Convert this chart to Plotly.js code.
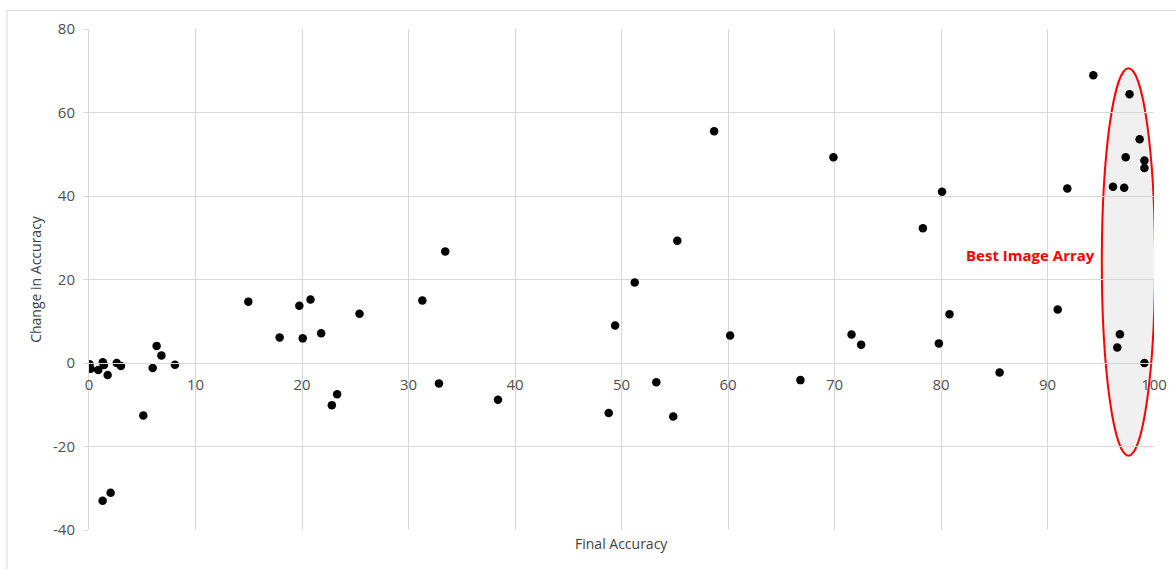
<!DOCTYPE html>
<html>
<head>
<meta charset="utf-8">
<script src="https://cdn.plot.ly/plotly-3.0.1.min.js"></script>
<style>html,body{margin:0;padding:0;background:#fff;}#chart{width:1176px;height:569px;}</style>
</head>
<body>
<div id="chart"></div>
<script>
var finalAccuracy = [0.05, 0.15, 0.87, 1.3, 1.4, 1.75, 2.6, 3.0, 5.1, 5.98, 6.35, 6.8, 8.07, 1.28, 2.03,
  14.96, 17.9, 19.75, 20.07, 20.8, 21.8, 25.4, 22.8, 23.3,
  33.45, 31.3, 32.86, 38.4, 55.24, 51.24, 49.4, 60.2, 53.27, 48.8, 54.86, 66.8, 58.7, 69.9,
  94.3, 97.7, 98.65, 97.34, 99.1, 99.1, 96.15, 97.2, 91.86, 80.1, 78.3, 71.6, 72.5, 79.8, 80.8, 85.5, 90.96, 96.8, 96.55, 99.1];
var changeInAccuracy = [-0.3, -1.4, -1.7, 0.2, -0.5, -2.9, 0.0, -0.7, -12.6, -1.2, 4.1, 1.8, -0.4, -33.0, -31.1,
  14.7, 6.1, 13.7, 5.9, 15.2, 7.1, 11.8, -10.1, -7.5,
  26.7, 15.0, -4.9, -8.8, 29.3, 19.3, 9.0, 6.6, -4.6, -12.0, -12.8, -4.1, 55.5, 49.3,
  68.9, 64.4, 53.6, 49.3, 48.5, 46.7, 42.2, 42.0, 41.8, 41.0, 32.3, 6.8, 4.4, 4.7, 11.7, -2.3, 12.8, 6.9, 3.7, 0.0];
var xTicks = [0, 10, 20, 30, 40, 50, 60, 70, 80, 90, 100];
var yTicks = [-40, -20, 0, 20, 40, 60, 80];
var highlightLabel = "Best Image Array";
var highlightBox = {x0: 95.1, x1: 100.1, y0: -22.2, y1: 70.6};
var xRange = [0, 100], yRange = [-40, 80];

var trace = {
  x: finalAccuracy, y: changeInAccuracy, type: 'scatter', mode: 'markers',
  marker: {color: '#000000', size: 8.5}, hoverinfo: 'x+y', showlegend: false
};

var layout = {
  width: 1176, height: 569,
  margin: {l: 89, r: 22, t: 28.5, b: 39, pad: 0},
  paper_bgcolor: '#ffffff', plot_bgcolor: '#ffffff',
  font: {family: 'Open Sans, Liberation Sans, sans-serif', color: '#595959', size: 15},
  xaxis: {
    range: xRange, tickvals: xTicks, ticktext: xTicks.map(String),
    showgrid: true, gridcolor: '#d9d9d9', gridwidth: 1,
    zeroline: false, showline: true, linecolor: '#d9d9d9', linewidth: 1,
    anchor: 'free', position: (0 - yRange[0]) / (yRange[1] - yRange[0]),
    ticks: '', ticklabelstandoff: 8,
    tickfont: {size: 15, color: '#505050'}
  },
  yaxis: {
    range: yRange, tickvals: yTicks, ticktext: yTicks.map(String),
    showgrid: true, gridcolor: '#d9d9d9', gridwidth: 1,
    zeroline: false, showline: true, linecolor: '#d9d9d9', linewidth: 1,
    ticks: 'outside', ticklen: 5, tickcolor: '#d9d9d9', ticklabelstandoff: 5,
    tickfont: {size: 15, color: '#505050'},
    title: {text: 'Change in Accuracy', font: {size: 14, color: '#404040'}, standoff: 8}
  },
  shapes: [
    {type: 'rect', xref: 'paper', yref: 'paper', x0: -0.077, x1: 1.05, y0: -0.2, y1: 1.0369,
      line: {color: '#d9d9d9', width: 1}, fillcolor: 'rgba(0,0,0,0)', layer: 'below'},
    {type: 'circle', xref: 'x', yref: 'y', x0: highlightBox.x0, x1: highlightBox.x1,
      y0: highlightBox.y0, y1: highlightBox.y1,
      line: {color: '#ff0000', width: 2}, fillcolor: '#f0f0f0', layer: 'below'}
  ],
  annotations: [
    {text: '<b>' + highlightLabel + '</b>', xref: 'x', yref: 'y', x: 88.4, y: 25.9,
      showarrow: false, font: {size: 15, color: '#ff0000', family: 'Open Sans, sans-serif'}},
    {text: 'Final Accuracy', xref: 'paper', yref: 'paper', x: 0.5, y: -0.003, yanchor: 'top',
      showarrow: false, font: {size: 14, color: '#404040'}}
  ]
};

Plotly.newPlot('chart', [trace], layout, {displayModeBar: false, staticPlot: true});
</script>
</body>
</html>
